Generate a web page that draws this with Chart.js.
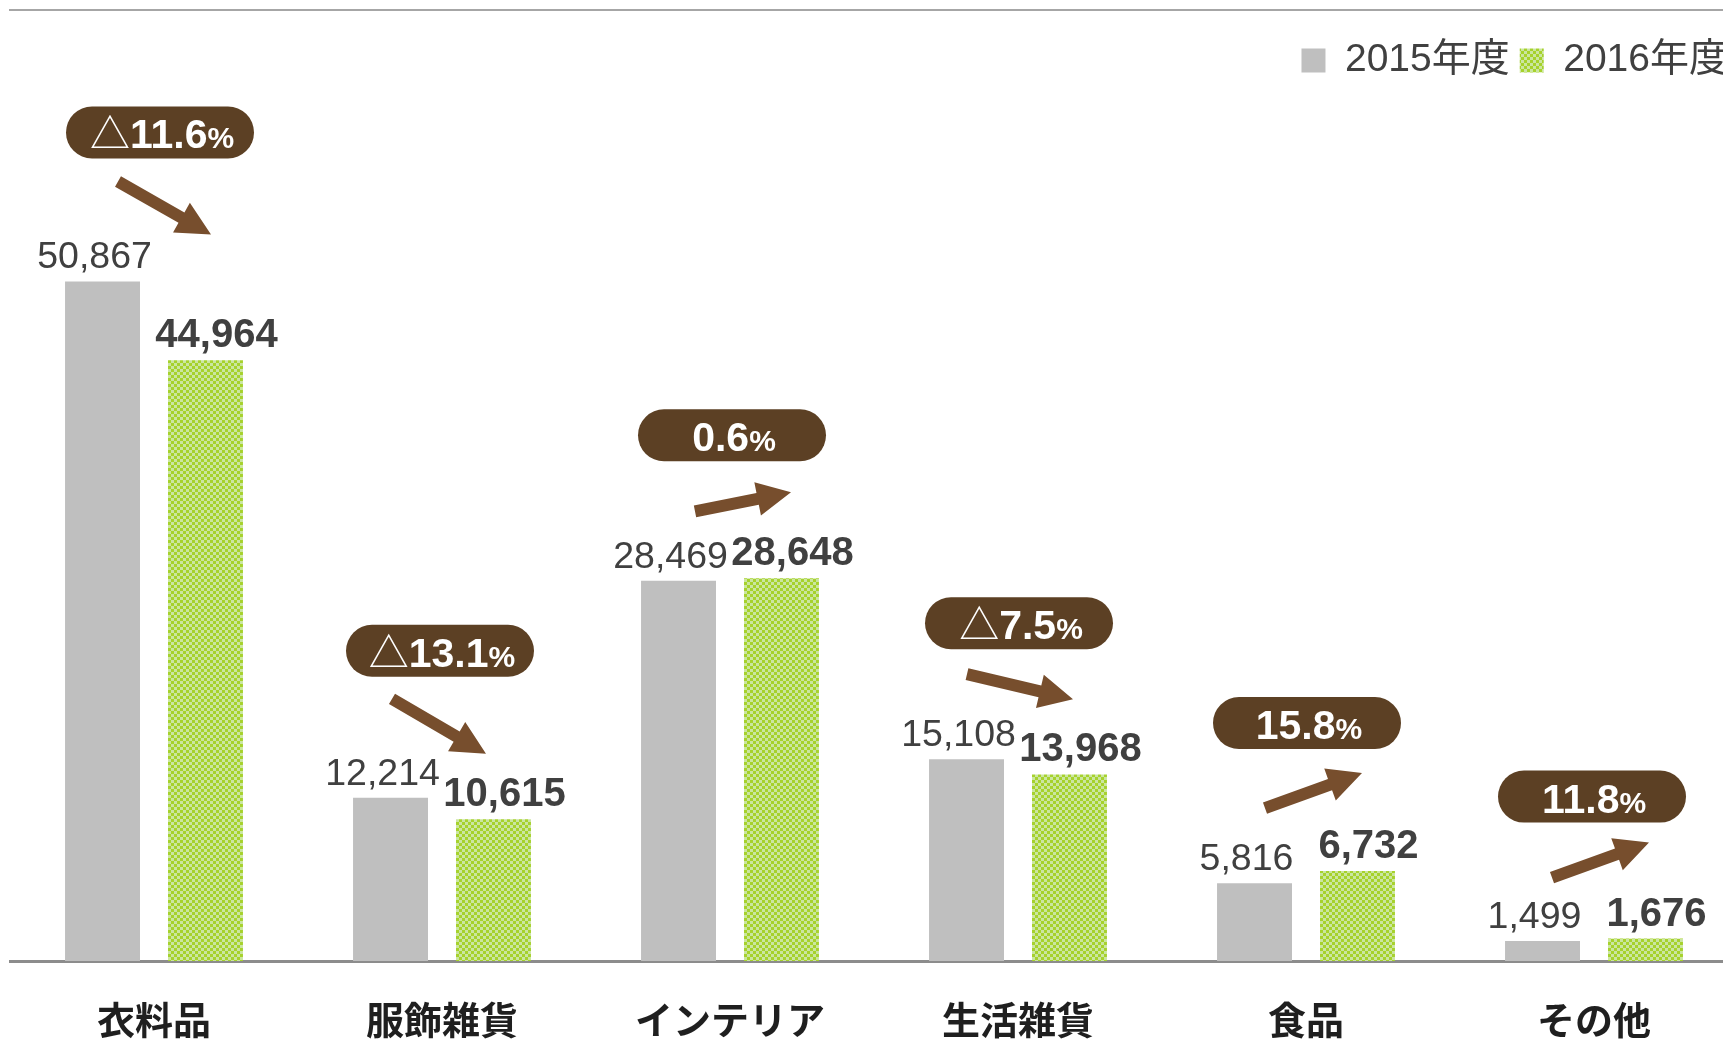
<!DOCTYPE html>
<html lang="ja">
<head>
<meta charset="utf-8">
<title>カテゴリ別売上</title>
<script src="https://cdn.jsdelivr.net/npm/chart.js@4.4.1/dist/chart.umd.min.js"></script>
<style>
  html, body { margin: 0; padding: 0; background: #fff; overflow: hidden; }
  #wrap { position: relative; width: 1723px; height: 1040px; overflow: hidden; }
  #topRule { position: absolute; left: 9px; right: 0; top: 9px; height: 2px; background: #a6a6a6; }
  #chart { position: absolute; left: 0; top: 0; }
</style>
</head>
<body>
<div id="wrap">
  <div id="topRule"></div>
  <canvas id="chart" width="1740" height="1040"></canvas>
</div>
<script>
/* データ */
const categories = ["衣料品", "服飾雑貨", "インテリア", "生活雑貨", "食品", "その他"];
const seriesNames = ["2015年度", "2016年度"];
const fy2015 = [50867, 12214, 28469, 15108, 5816, 1499];
const fy2016 = [44964, 10615, 28648, 13968, 6732, 1676];
const changePct = [-11.6, -13.1, 0.6, -7.5, 15.8, 11.8];

/* 注記の配置（バッジの位置、矢印の向き） */
const badgeGap = [123, 121, 117, 110, 122, 116];
const badgeDx = [6, -2, 2, 1, 1, -2];
const arrowPath = [
  [-36, 23, 57, 76],
  [-50, 22, 44, 77],
  [-35, 50, 61, 31],
  [-51, 25, 55, 50],
  [-41, 59, 56, 24],
  [-42, 55, 55, 20]
];

const NUM_FONT = "'Liberation Sans', Arial, sans-serif";
const JP_FONT = "'Noto Sans CJK JP', 'Liberation Sans', sans-serif";

const canvas = document.getElementById("chart");
const mainCtx = canvas.getContext("2d");

/* 市松模様（2016年度） */
function checker() {
  const c = document.createElement("canvas");
  c.width = 6;
  c.height = 6;
  const g = c.getContext("2d");
  g.fillStyle = "#cbe6a0";
  g.fillRect(0, 0, 6, 6);
  g.fillStyle = "#a6d22c";
  g.fillRect(0, 0, 3, 3);
  g.fillRect(3, 3, 3, 3);
  return mainCtx.createPattern(c, "repeat");
}

const fmt = v => v.toLocaleString("en-US");

function pill(ctx, x, y, w, h) {
  const r = h / 2;
  ctx.beginPath();
  ctx.moveTo(x + r, y);
  ctx.lineTo(x + w - r, y);
  ctx.arc(x + w - r, y + r, r, -Math.PI / 2, Math.PI / 2);
  ctx.lineTo(x + r, y + h);
  ctx.arc(x + r, y + r, r, Math.PI / 2, Math.PI * 1.5);
  ctx.closePath();
  ctx.fill();
}

function arrow(ctx, x1, y1, x2, y2) {
  const ang = Math.atan2(y2 - y1, x2 - x1);
  const len = Math.hypot(x2 - x1, y2 - y1);
  const head = 34, half = 17, shaft = 6;
  ctx.save();
  ctx.translate(x1, y1);
  ctx.rotate(ang);
  ctx.fillStyle = "#774e2d";
  ctx.beginPath();
  ctx.moveTo(0, -shaft);
  ctx.lineTo(len - head, -shaft);
  ctx.lineTo(len - head, -half);
  ctx.lineTo(len, 0);
  ctx.lineTo(len - head, half);
  ctx.lineTo(len - head, shaft);
  ctx.lineTo(0, shaft);
  ctx.closePath();
  ctx.fill();
  ctx.restore();
}

/* 数値ラベル・増減バッジ・矢印 */
const annotations = {
  id: "annotations",
  afterDatasetsDraw(chart) {
    const ctx = chart.ctx;
    const xs = chart.scales.x;
    const m0 = chart.getDatasetMeta(0);
    const m1 = chart.getDatasetMeta(1);

    ctx.save();
    categories.forEach((name, i) => {
      const b0 = m0.data[i];
      const b1 = m1.data[i];

      ctx.fillStyle = "#404040";
      ctx.textAlign = "center";
      ctx.textBaseline = "alphabetic";
      ctx.font = `37.5px ${NUM_FONT}`;
      ctx.fillText(fmt(fy2015[i]), b0.x - 8, b0.y - 13);
      ctx.font = `bold 40px ${NUM_FONT}`;
      ctx.fillText(fmt(fy2016[i]), b1.x + 11, b1.y - 13);

      const cx = xs.getPixelForValue(i);
      const bx = cx + badgeDx[i];
      const bb = Math.min(b0.y, b1.y) - badgeGap[i];
      const bw = 188, bh = 52;
      ctx.fillStyle = "#5c4024";
      pill(ctx, bx - bw / 2, bb - bh, bw, bh);

      const parts = [];
      if (changePct[i] < 0) parts.push(["△", `40px ${JP_FONT}`]);
      parts.push([Math.abs(changePct[i]).toFixed(1), `bold 41px ${NUM_FONT}`]);
      parts.push(["%", `bold 30px ${NUM_FONT}`]);

      let total = 0;
      parts.forEach(p => { ctx.font = p[1]; total += ctx.measureText(p[0]).width; });
      let tx = bx + 2 - total / 2;
      ctx.fillStyle = "#ffffff";
      ctx.textAlign = "left";
      parts.forEach(p => {
        ctx.font = p[1];
        ctx.fillText(p[0], tx, bb - 10);
        tx += ctx.measureText(p[0]).width;
      });

      const a = arrowPath[i];
      arrow(ctx, cx + a[0], bb + a[1], cx + a[2], bb + a[3]);
    });
    ctx.restore();
  }
};

new Chart(canvas, {
  type: "bar",
  data: {
    labels: categories,
    datasets: [
      {
        label: seriesNames[0],
        data: fy2015,
        backgroundColor: "#bfbfbf",
        borderWidth: 0,
        categoryPercentage: 0.715,
        barPercentage: 0.728
      },
      {
        label: seriesNames[1],
        data: fy2016,
        backgroundColor: checker(),
        borderWidth: 0,
        categoryPercentage: 0.715,
        barPercentage: 0.728
      }
    ]
  },
  options: {
    responsive: false,
    animation: false,
    devicePixelRatio: 1,
    events: [],
    layout: { padding: { top: 31, left: 10, right: 2, bottom: 0 } },
    plugins: {
      tooltip: { enabled: false },
      legend: {
        position: "top",
        align: "end",
        labels: {
          boxWidth: 24,
          boxHeight: 24,
          padding: 10,
          color: "#404040",
          font: { family: "'Liberation Sans', 'Noto Sans CJK JP', sans-serif", size: 39 }
        }
      }
    },
    scales: {
      x: {
        grid: { display: false, drawTicks: false },
        border: { display: true, color: "#8c8c8c", width: 3 },
        ticks: {
          color: "#1f1f1f",
          padding: 36,
          maxRotation: 0,
          autoSkip: false,
          font: { family: JP_FONT, size: 38, weight: "bold" }
        },
        afterFit(scale) { scale.height = 79; }
      },
      y: {
        display: false,
        min: 0,
        max: 65200
      }
    }
  },
  plugins: [annotations]
});
</script>
</body>
</html>
